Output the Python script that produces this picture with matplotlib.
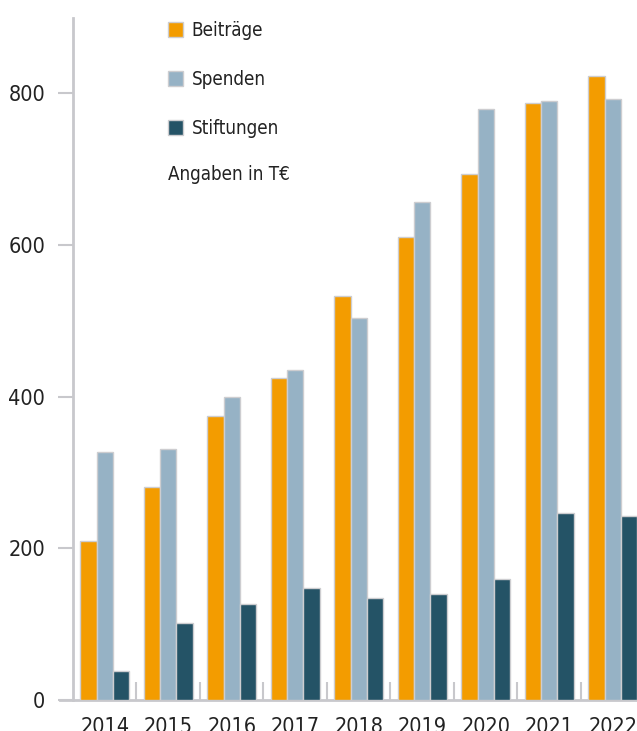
import matplotlib
matplotlib.use("Agg")
import matplotlib.pyplot as plt
import numpy as np
from matplotlib.patches import Patch

# data (Angaben in T€)
jahre = ["2014", "2015", "2016", "2017", "2018", "2019", "2020", "2021", "2022"]
beitraege = [209, 281, 375, 425, 533, 610, 693, 787, 822]
spenden = [327, 331, 400, 435, 504, 657, 779, 790, 792]
stiftungen = [38, 101, 127, 147, 135, 140, 160, 246, 243]

c_beitraege = "#F39C00"
c_spenden = "#96B2C5"
c_stiftungen = "#245366"
c_axis = "#C8C8CC"
c_text = "#222222"

plt.rcParams['font.family'] = ['DejaVu Sans']
plt.rcParams['font.stretch'] = 'condensed'

W, H = 637, 731
fig = plt.figure(figsize=(W / 100, H / 100), dpi=100)
ax = fig.add_axes([60 / W, 31 / H, 577 / W, 682 / H])

x = np.arange(len(jahre))
bw = 0.255
kw = dict(edgecolor="#CDCDD0", linewidth=1.0, zorder=3)
ax.bar(x - bw, beitraege, bw, color=c_beitraege, label="Beiträge", **kw)
ax.bar(x, spenden, bw, color=c_spenden, label="Spenden", **kw)
ax.bar(x + bw, stiftungen, bw, color=c_stiftungen, label="Stiftungen", **kw)

ax.set_xlim(-0.7047, 8.382)
ax.set_ylim(0, 899)

for s in ["top", "right"]:
    ax.spines[s].set_visible(False)
ax.spines["left"].set_position(("data", -0.5))
ax.spines["left"].set_color(c_axis)
ax.spines["left"].set_linewidth(2.0)
ax.spines["bottom"].set_color(c_axis)
ax.spines["bottom"].set_linewidth(2.0)

ax.set_yticks([0, 200, 400, 600, 800])
ax.tick_params(axis="y", length=11, width=1.5, color=c_axis, pad=9,
               labelsize=15.5, labelcolor=c_text)

ax.set_xticks(x)
ax.set_xticklabels(jahre)
ax.set_xticks(x[:-1] + 0.5, minor=True)
ax.tick_params(axis="x", which="major", length=0, pad=12,
               labelsize=15.5, labelcolor=c_text)
ax.tick_params(axis="x", which="minor", direction="in", length=13,
               width=1.5, color=c_axis)

handles = [Patch(facecolor=c, edgecolor="#CDCDD0", linewidth=1.0)
           for c in (c_beitraege, c_spenden, c_stiftungen)]
leg = ax.legend(handles, ["Beiträge", "Spenden", "Stiftungen"],
                loc="upper left", bbox_to_anchor=(168 / W, 1 - 21 / H),
                bbox_transform=fig.transFigure, frameon=False,
                fontsize=13.5, handlelength=0.8, handleheight=0.8,
                handletextpad=0.45, labelspacing=1.6, borderpad=0,
                borderaxespad=0)
for t in leg.get_texts():
    t.set_color(c_text)

fig.text(168 / W, 1 - 175 / H, "Angaben in T€", fontsize=13.5,
         color=c_text, va="center", ha="left")

fig.savefig("out.png", dpi=100)
